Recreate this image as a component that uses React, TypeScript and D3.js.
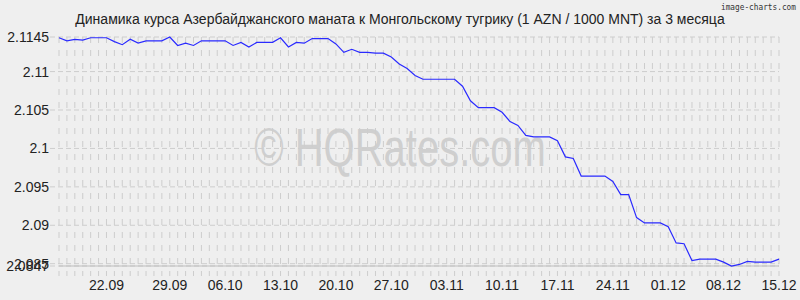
import React from 'react';
import * as d3 from 'd3';

const W = 800;
const H = 300;

const title = 'Динамика курса Азербайджанского маната к Монгольскому тугрику (1 AZN / 1000 MNT) за 3 месяца';

const rates: number[] = [
  2.1144, 2.1140, 2.1142, 2.1141, 2.1144, 2.1144, 2.1144, 2.1139, 2.1135, 2.1142,
  2.1137, 2.1140, 2.1140, 2.1140, 2.1145, 2.1134, 2.1137, 2.1134, 2.1140, 2.1140,
  2.1140, 2.1140, 2.1134, 2.1138, 2.1132, 2.1138, 2.1138, 2.1138, 2.1144, 2.1132,
  2.1138, 2.1137, 2.1143, 2.1143, 2.1143, 2.1136, 2.1125, 2.1129, 2.1125, 2.1125,
  2.1124, 2.1124, 2.1119, 2.1110, 2.1104, 2.1095, 2.1090, 2.1090, 2.1090, 2.1090,
  2.1090, 2.1081, 2.1062, 2.1053, 2.1053, 2.1053, 2.1047, 2.1035, 2.1030, 2.1017,
  2.1015, 2.1015, 2.1015, 2.1010, 2.0989, 2.0987, 2.0964, 2.0964, 2.0964, 2.0964,
  2.0957, 2.0940, 2.0940, 2.0910, 2.0903, 2.0903, 2.0903, 2.0898, 2.0877, 2.0876,
  2.0854, 2.0856, 2.0856, 2.0856, 2.0852, 2.0847, 2.0849, 2.0853, 2.0852, 2.0852,
  2.0852, 2.0856,
];

const yTickValues: number[] = [2.1145, 2.11, 2.105, 2.1, 2.095, 2.09, 2.085, 2.0847];
const xTickLabels: string[] = ['22.09', '29.09', '06.10', '13.10', '20.10', '27.10', '03.11', '10.11', '17.11', '24.11', '01.12', '08.12', '15.12'];
const xTickIndex: number[] = [6, 14, 21, 28, 35, 42, 49, 56, 63, 70, 77, 84, 91];

const FONT = 'Arial, "Liberation Sans", Helvetica, sans-serif';

export default function App() {
  const left = 59;
  const right = 779;
  const top = 37;
  const bottom = 266;

  const x = d3.scaleLinear().domain([0, rates.length - 1]).range([left, right]);
  const y = d3.scaleLinear().domain([2.0847, 2.1145]).range([bottom, top]);
  const line = d3.line<number>().x((_, i) => x(i)).y((d) => y(d));

  const idx = d3.range(rates.length);

  return (
    <svg width={W} height={H} style={{ position: 'absolute', left: 0, top: 0, display: 'block' }}>
      <rect width={W} height={H} fill="#efefef" />
      <text x={400} y={24} textAnchor="middle" fontFamily={FONT} fontSize={14} fill="#222">{title}</text>
      <text x={796} y={10} textAnchor="end" fontFamily='"DejaVu Sans Mono", monospace' fontSize={8.5} fill="#333" textLength={75} lengthAdjust="spacingAndGlyphs">image-charts.com</text>

      <g transform="translate(400,166) scale(1,1.35)">
        <text x={0} y={0} textAnchor="middle" fontFamily={FONT} fontSize={40} fill="#cfcfcf">© HQRates.com</text>
      </g>

      {idx.map((i) => (
        <line key={'v' + i} x1={x(i)} x2={x(i)} y1={top} y2={bottom + 10} stroke="#cdcdcd" strokeWidth={1} strokeDasharray="6,7" />
      ))}
      {yTickValues.map((v) => (
        <line key={'h' + v} x1={left - 9} x2={right} y1={y(v)} y2={y(v)} stroke="#cdcdcd" strokeWidth={1} strokeDasharray="5,3" />
      ))}
      <line x1={left} x2={right} y1={bottom} y2={bottom} stroke="#bdbdbd" strokeWidth={1} />

      {yTickValues.map((v) => (
        <text key={'yl' + v} x={49} y={y(v)} dy="0.36em" textAnchor="end" fontFamily={FONT} fontSize={14} fill="#222">{String(v)}</text>
      ))}
      {xTickLabels.map((lab, k) => (
        <text key={'xl' + lab} x={x(xTickIndex[k])} y={290} textAnchor="middle" fontFamily={FONT} fontSize={14} fill="#222">{lab}</text>
      ))}

      <path d={line(rates) || ''} fill="none" stroke="#2a2aff" strokeWidth={1.2} />
    </svg>
  );
}
